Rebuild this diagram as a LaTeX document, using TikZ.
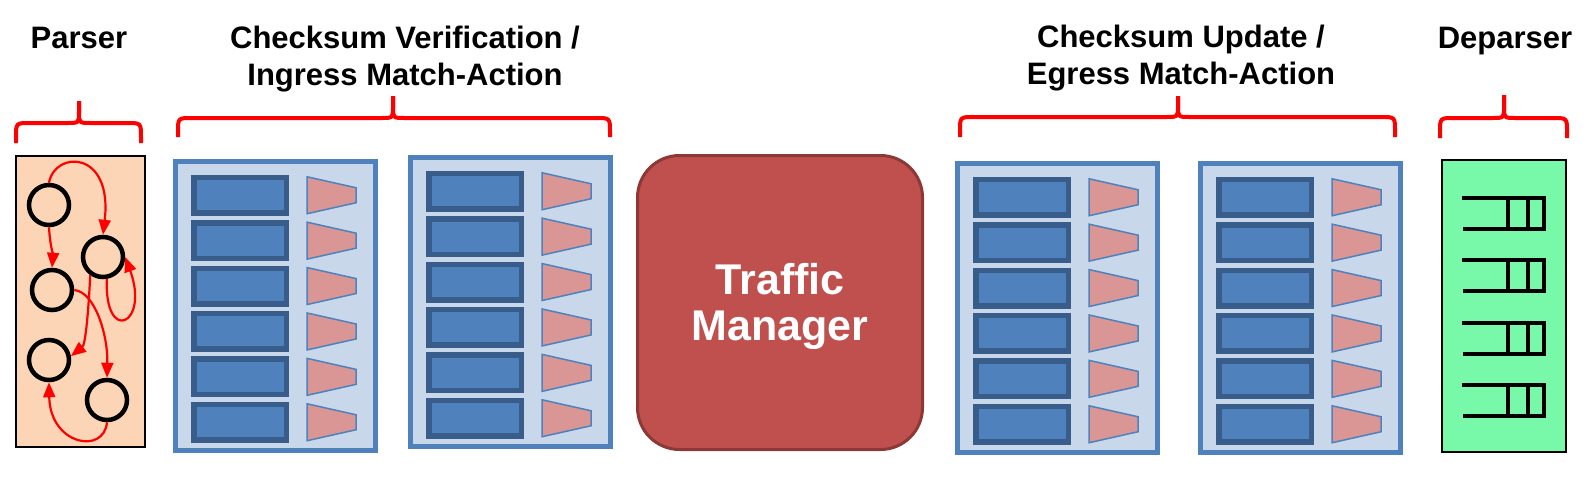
\documentclass[tikz,border=0pt]{standalone}
\usepackage{fontspec}
\setmainfont{Liberation Sans}
\usetikzlibrary{arrows.meta}
\definecolor{peach}{RGB}{251,213,181}
\definecolor{mint}{RGB}{119,249,169}
\definecolor{mablue}{RGB}{79,129,189}
\definecolor{malight}{RGB}{200,216,234}
\definecolor{madark}{RGB}{56,93,138}
\definecolor{trapred}{RGB}{217,150,148}
\definecolor{tmred}{RGB}{192,80,77}
\definecolor{tmborder}{RGB}{140,56,54}
\definecolor{bracered}{RGB}{255,0,0}
\tikzset{
 title/.style={font=\fontsize{31}{37}\selectfont\bfseries, align=center, inner sep=0pt},
 bracestyle/.style={draw=bracered, line width=4pt},
 pbox/.style={draw=black, line width=2pt, fill=peach, minimum width=129pt, minimum height=291pt, inner sep=0pt},
 dbox/.style={draw=black, line width=2pt, fill=mint, minimum width=124pt, minimum height=292pt, inner sep=0pt},
 pstate/.style={circle, draw=black, line width=4.5pt, minimum size=40pt, inner sep=0pt, outer sep=2.25pt},
 parr/.style={draw=red, line width=2.2pt, -{Triangle[length=15pt,width=12pt]}},
 mabox/.style={draw=mablue, fill=malight, line width=4.5pt, minimum width=200pt, minimum height=289pt, inner sep=0pt},
 tblrect/.style={draw=madark, fill=mablue, line width=5.5pt, minimum width=92.5pt, minimum height=35.5pt, inner sep=0pt},
 trapstyle/.style={draw=mablue, fill=trapred, line width=1.5pt, line join=miter},
 tmbox/.style={draw=tmborder, fill=tmred, line width=3pt, rounded corners=42pt, minimum width=285pt, minimum height=294pt, inner sep=0pt},
 tmtext/.style={text=white, font=\fontsize{43}{46}\selectfont\bfseries, align=center, inner sep=0pt},
 queue/.style={draw=black, line width=4.5pt, line join=miter},
}
\newcommand{\mablock}[3]{%
  \node[mabox] (#1) at ({#2+102.5},{#3+147}) {};
  \foreach \k in {0,...,5}{%
    \pgfmathsetmacro{\yc}{#3+36.25+45.4*\k}%
    \node[tblrect] (#1t\k) at ({#2+67},\yc) {};
    \draw[trapstyle] ({#2+134},{\yc-18.5}) -- ({#2+183},{\yc-7.5}) -- ({#2+183},{\yc+7.5}) -- ({#2+134},{\yc+18.5}) -- cycle;
  }%
}
\newcommand{\queueicon}[1]{%
  \draw[queue] (1462,#1) -- (1544,#1) -- (1544,{#1+31}) -- (1463,{#1+31});
  \draw[queue] (1508,#1) -- (1508,{#1+31});
  \draw[queue] (1528,#1) -- (1528,{#1+31});
}
\newcommand{\redbrace}[6]{%
  \draw[bracestyle] (#1,#6) -- (#1,{#5+14}) .. controls (#1,#5) .. ({#1+14},#5) -- ({#3-12},#5) .. controls (#3,#5) .. (#3,{#5-11}) -- (#3,#4);
  \draw[bracestyle] (#2,#6) -- (#2,{#5+14}) .. controls (#2,#5) .. ({#2-14},#5) -- ({#3+12},#5) .. controls (#3,#5) .. (#3,{#5-11}) -- (#3,#4);
}
\begin{document}
\begin{tikzpicture}[x=1pt,y=-1pt]
\useasboundingbox (0,0) rectangle (1586,491);
\fill[white] (0,0) rectangle (1586,491);
% titles
\node[title, anchor=base] (tparser) at (79,48) {Parser};
\node[title, anchor=north] (tingress) at (405,25.5) {Checksum Verification /\\Ingress Match-Action};
\node[title, anchor=north] (tegress) at (1181,25) {Checksum Update /\\Egress Match-Action};
\node[title, anchor=base] (tdep) at (1505,48) {Deparser};
% braces
\redbrace{16}{141}{79}{101}{123}{143}
\redbrace{178}{610}{393}{96}{118}{137}
\redbrace{960}{1395}{1178}{96}{117}{137}
\redbrace{1440}{1567}{1504}{95}{118}{138}
% parser
\node[pbox] (parser) at (80.5,301.5) {};
\node[pstate] (s1) at (49,205) {};
\node[pstate] (s2) at (103,257) {};
\node[pstate] (s3) at (52,290) {};
\node[pstate] (s4) at (49,360) {};
\node[pstate] (s5) at (107,400) {};
\draw[parr] (s1.north) .. controls (55,150) and (113,150) .. (s2.north);
\draw[parr] (s1.south) .. controls (50,245) and (53,255) .. (s3.north);
\draw[parr] (s2.235) .. controls (88,320) and (85,345) .. (s4.10);
\draw[parr] (s2.-80) .. controls (104,345) and (150,325) .. (s2.east);
\draw[parr] (s3.east) .. controls (95,292) and (108,335) .. (s5.north);
\draw[parr] (s5.south) .. controls (104,455) and (50,445) .. (s4.south);
% match-action blocks
\mablock{ing1}{173}{159}
\mablock{ing2}{408}{155}
\mablock{egr1}{955}{161}
\mablock{egr2}{1198}{161}
% traffic manager
\node[tmbox] (tm) at (780,302.5) {};
\node[tmtext] (tmlabel) at (780,306) {Traffic\\Manager};
% deparser
\node[dbox] (dep) at (1504,306) {};
\queueicon{198}
\queueicon{260}
\queueicon{323}
\queueicon{385}
\end{tikzpicture}
\end{document}
